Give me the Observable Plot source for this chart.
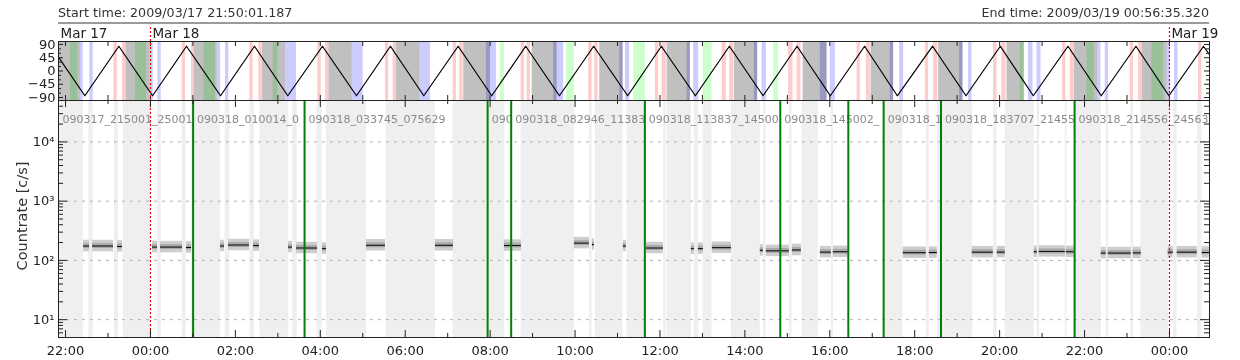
<!DOCTYPE html>
<html><head><meta charset="utf-8">
<script src="https://cdn.jsdelivr.net/npm/d3@7"></script>
<script src="https://cdn.jsdelivr.net/npm/@observablehq/plot@0.6"></script>
<style>
body{margin:0;background:#fff;font-family:"DejaVu Sans",sans-serif;}
#wrap{position:relative;width:1240px;height:360px;overflow:hidden;background:#fff;}
#wrap svg{position:absolute;left:0;}
.hdr{position:absolute;font-size:12.7px;line-height:18px;color:#333;white-space:nowrap;}
#ytitle{position:absolute;left:22px;top:216px;transform:translate(-50%,-50%) rotate(-90deg);font-size:14.5px;color:#333;white-space:nowrap;}
</style></head><body><div id="wrap"></div>
<script>
// ---------- data (times in hours since 2009-03-17 00:00 UT) ----------
const START = "2009-03-17T21:50:01.187Z";
const END = "2009-03-19T00:56:35.320Z";
const startLabel = "Start time: 2009/03/17 21:50:01.187";
const endLabel = "End time: 2009/03/19 00:56:35.320";

// orbit angle (top panel)
const orbitHours = [21.834, 22.454, 23.255, 24.049, 24.849, 25.650, 26.450, 27.234, 28.051, 28.852, 29.652, 30.437, 31.247, 32.038, 32.838, 33.632, 34.439, 35.240, 36.033, 36.834, 37.635, 38.428, 39.229, 40.013, 40.820, 41.590, 42.422, 43.208, 44.016, 44.793, 45.610, 46.394, 47.211, 47.988, 48.803, 48.943];
const orbitAngle = [47, -84, 84, -84, 84, -84, 84, -84, 84, -84, 84, -84, 84, -84, 84, -84, 84, -84, 84, -84, 84, -84, 84, -84, 84, -84, 84, -84, 84, -84, 84, -84, 84, -84, 84, 55];

// top panel interval bands
const grayBands = [[21.834,22.353],[23.420,23.985],[25.021,25.572],[26.632,27.180],[28.200,28.751],[29.794,30.342],[31.378,32.007],[32.989,33.578],[34.581,35.132],[36.168,36.716],[37.752,38.301],[39.370,39.935],[40.971,41.503],[42.563,43.137],[44.173,44.581],[45.758,46.307],[47.352,47.941]];
const pinkBands = [[23.137,23.217],[23.342,23.420],[24.748,24.826],[24.967,25.021],[26.340,26.420],[26.551,26.632],[27.941,28.021],[28.122,28.200],[29.535,29.612],[29.716,29.794],[31.129,31.206],[31.284,31.364],[32.730,32.808],[32.871,32.949],[34.322,34.402],[34.463,34.543],[35.892,35.970],[36.050,36.151],[37.463,37.564],[37.642,37.736],[39.031,39.135],[39.229,39.323],[40.641,40.719],[40.861,40.955],[42.250,42.328],[42.445,42.539],[43.858,43.938],[44.055,44.150],[45.482,45.562],[45.664,45.758],[47.076,47.154],[47.272,47.352],[48.685,48.765]];
const greenBands = [[22.118,22.290],[23.648,23.907],[25.256,25.532],[26.891,26.999],[32.243,32.337],[33.797,33.985],[35.381,35.657],[37.015,37.227],[38.678,38.795],[44.486,44.581],[46.057,46.229],[47.588,47.861]];
const blueBands = [[22.353,22.417],[22.572,22.652],[23.985,24.065],[24.173,24.253],[25.572,25.650],[25.767,25.845],[27.180,27.439],[28.751,29.010],[30.342,30.594],[31.913,32.148],[33.498,33.733],[35.052,35.132],[35.186,35.287],[36.639,36.716],[36.794,36.912],[38.223,38.301],[38.405,38.506],[39.777,39.935],[40.013,40.130],[41.425,41.503],[41.645,41.739],[43.057,43.137],[43.269,43.349],[44.682,44.786],[44.880,44.974],[46.307,46.387],[46.488,46.566],[47.941,48.019],[48.120,48.200]];

// main panel excluded intervals (light gray)
const excludedBands = [[21.834,22.417],[22.549,22.652],[23.154,23.248],[23.359,24.025],[24.166,24.253],[24.748,24.842],[24.960,25.650],[25.760,25.869],[26.340,26.450],[26.575,27.258],[27.352,27.456],[27.927,28.044],[28.146,29.087],[29.551,30.712],[31.129,32.344],[32.730,33.985],[34.345,34.402],[34.479,35.132],[35.226,35.657],[36.088,36.144],[36.168,36.740],[36.810,36.912],[37.015,37.227],[37.682,38.364],[38.442,38.499],[39.055,39.111],[39.346,39.730],[40.036,40.091],[41.261,41.724],[42.273,42.344],[42.539,43.364],[43.858,43.938],[44.133,44.816],[44.887,44.941],[45.546,45.586],[45.758,46.394],[46.511,46.566],[47.093,47.154],[47.329,47.978],[48.096,48.176],[48.662,48.765]];

// count-rate segments: start, end (hours), rate (c/s)
const segStart = [22.424,22.636,23.224,24.049,24.237,24.849,25.650,25.838,26.427,27.251,27.439,28.051,29.087,30.712,32.337,33.985,34.409,35.138,35.680,36.740,36.905,37.234,38.364,38.505,39.118,39.777,40.083,41.731,42.344,43.356,43.945,44.816,44.933,45.570,46.394,46.558,47.147,47.971,48.183,48.771];
const segEnd   = [22.565,23.130,23.342,24.166,24.755,24.967,25.744,26.332,26.568,27.345,27.933,28.146,29.535,31.136,32.737,34.338,34.456,35.209,36.080,36.810,37.023,37.682,38.435,39.048,39.330,40.036,40.436,42.273,42.532,43.851,44.133,44.887,45.546,45.758,46.511,47.100,47.335,48.089,48.654,48.940];
const segRate  = [175,175,172,168,168,165,175,182,178,168,162,158,180,180,178,196,185,175,162,158,158,164,148,145,150,138,140,135,136,138,138,140,142,140,133,133,134,138,138,136];

// file boundaries (green) and their labels
const fileHours = [25.004,27.629,31.941,32.496,35.644,38.834,40.436,41.268,42.619,45.766];
const labelHours = [21.834,25.004,27.629,31.941,32.496,35.644,38.834,41.268,42.619,45.766];
const labelTexts = ["090317_215001_25001","090318_010014_0","090318_033745_075629","090","090318_082946_11383","090318_113837_14500","090318_145002_","090318_1","090318_183707_21455","090318_214556_24563"];

const midnightHours = [24, 48];
const dayLabelHours = [21.834, 24, 48];
const dayLabels = ["Mar 17", "Mar 18", "Mar 19"];

const xTickHours = [22,24,26,28,30,32,34,36,38,40,42,44,46,48];
const xMinorHours = [23,25,27,29,31,33,35,37,39,41,43,45,47];
const yTopTicks = [-90,-45,0,45,90];
const yTopMinor = [-75,-60,-30,-15,15,30,60,75];
const yMainTicks = [10,100,1000,10000];
const yMainTickLabels = ["10¹","10²","10³","10⁴"];
const logMultipliers = [2,3,4,5,6,7,8,9];
const decades = [1,10,100,1000,10000];

// ---------- drawing ----------
const T0 = Date.UTC(2009, 2, 17);
const toDate = h => new Date(T0 + h * 3600e3);
const band = arr => arr.map(([a, b]) => ({x1: toDate(a), x2: toDate(b)}));

const WIDTH = 1240, ML = 58, MR = 31, FW = WIDTH - ML - MR;
const xOpt = {type: "utc", domain: [new Date(START), new Date(END)], axis: null};
const AX = "#222";
const RED = "#ff0000";
const baseStyle = {fontFamily: "DejaVu Sans, sans-serif", fontSize: "13px", color: "#222", background: "transparent", overflow: "visible"};

function xTicks(hours, len, H) {
  const d = hours.map(toDate);
  return [
    Plot.tickX(d, {x: v => v, insetTop: H - len, stroke: AX}),
    Plot.tickX(d, {x: v => v, insetBottom: H - len, stroke: AX})
  ];
}
function yTicks(vals, len) {
  return [
    Plot.tickY(vals, {y: v => v, insetRight: FW - len, stroke: AX}),
    Plot.tickY(vals, {y: v => v, insetLeft: FW - len, stroke: AX})
  ];
}

const orbit = orbitHours.map((h, i) => ({t: toDate(h), a: orbitAngle[i]}));
const TOPH = 59;
const topPlot = Plot.plot({
  width: WIDTH, height: 101, marginTop: 41, marginBottom: 1, marginLeft: ML, marginRight: MR,
  x: xOpt, y: {domain: [-100, 100], axis: null},
  style: baseStyle,
  marks: [
    Plot.rect(band(grayBands), {x1: "x1", x2: "x2", fill: "#c0c0c0"}),
    Plot.rect(band(pinkBands), {x1: "x1", x2: "x2", fill: "#ffcccc"}),
    Plot.rect(band(greenBands), {x1: "x1", x2: "x2", fill: "#ccffcc", mixBlendMode: "multiply"}),
    Plot.rect(band(blueBands), {x1: "x1", x2: "x2", fill: "#ccccff", mixBlendMode: "multiply"}),
    Plot.line(orbit, {x: "t", y: "a", stroke: "#000", strokeWidth: 1.2}),
    Plot.frame({stroke: AX}),
    ...xTicks([...xTickHours, ...xMinorHours], 5, TOPH),
    ...yTicks(yTopTicks, 5),
    ...yTicks(yTopMinor, 3),
    Plot.ruleX(midnightHours.map(toDate), {x: v => v, stroke: RED, strokeWidth: 1.2, strokeDasharray: "2,2", insetTop: -14}),
    Plot.axisY(yTopTicks, {anchor: "left", tickSize: 0, tickPadding: 3, fontSize: 13, label: null,
      tickFormat: v => v < 0 ? "\u2212" + Math.abs(v) : String(v)}),
    Plot.text(dayLabelHours.map((h, i) => ({t: toDate(h), s: dayLabels[i]})),
      {x: "t", text: "s", frameAnchor: "top", dy: -13, dx: 2, textAnchor: "start", fontSize: 13.5, fill: "#222"})
  ]
});

const MAINH = 237;
const segs = segStart.map((s, i) => ({x1: toDate(s), x2: toDate(segEnd[i]), r: segRate[i]}));
const minorLog = decades.flatMap(d => logMultipliers.map(m => d * m)).filter(v => v >= 5 && v <= 5e4);
const mainPlot = Plot.plot({
  width: WIDTH, height: 265, marginTop: 5, marginBottom: 23, marginLeft: ML, marginRight: MR,
  x: xOpt, y: {type: "log", domain: [5, 5e4], axis: null},
  style: baseStyle,
  marks: [
    Plot.rect(band(excludedBands), {x1: "x1", x2: "x2", fill: "#efefef"}),
    Plot.ruleY(yMainTicks, {y: v => v, stroke: "#b0b0b0", strokeDasharray: "3,5"}),
    Plot.rect(segs, {x1: "x1", x2: "x2", y1: d => d.r / 1.25, y2: d => d.r * 1.25, fill: "#cdcdcd"}),
    Plot.rect(segs, {x1: "x1", x2: "x2", y1: d => d.r / 1.1, y2: d => d.r * 1.1, fill: "#a9a9a9"}),
    Plot.ruleY(segs, {x1: "x1", x2: "x2", y: "r", stroke: "#000", strokeWidth: 1}),
    Plot.text(labelHours.map((h, i) => ({t: toDate(h), s: labelTexts[i]})),
      {x: "t", text: "s", frameAnchor: "top", dy: 15, dx: 4, textAnchor: "start", fontSize: 11, fill: "#8a8a8a"}),
    Plot.ruleX(midnightHours.map(toDate), {x: v => v, stroke: RED, strokeWidth: 1.2, strokeDasharray: "2,2"}),
    Plot.ruleX(fileHours.map(toDate), {x: v => v, stroke: "#008000", strokeWidth: 2}),
    Plot.frame({stroke: AX}),
    ...xTicks(xTickHours, 7, MAINH),
    ...xTicks(xMinorHours, 4, MAINH),
    ...yTicks(yMainTicks, 9),
    ...yTicks(minorLog, 5),
    Plot.axisX(xTickHours.map(toDate), {anchor: "bottom", tickSize: 0, tickPadding: 8, fontSize: 13, label: null,
      tickFormat: d3.utcFormat("%H:%M")}),
    Plot.axisY(yMainTicks, {anchor: "left", tickSize: 0, tickPadding: 4, fontSize: 13, label: null,
      tickFormat: v => yMainTickLabels[yMainTicks.indexOf(v)]})
  ]
});

const wrap = document.getElementById("wrap");
topPlot.style.top = "0px";
mainPlot.style.top = "95px";
wrap.appendChild(mainPlot);
wrap.appendChild(topPlot);

const mk = (cls, txt, css) => { const d = document.createElement("div"); if (cls) d.className = cls; if (txt) d.textContent = txt; Object.assign(d.style, css); wrap.appendChild(d); return d; };
mk("hdr", startLabel, {left: ML + "px", top: "4px"});
mk("hdr", endLabel, {right: MR + "px", top: "4px"});
mk(null, null, {position: "absolute", left: ML + "px", top: "22px", width: FW + "px", height: "2px", background: "#9a9a9a"});
const yt = mk(null, "Countrate [c/s]", {}); yt.id = "ytitle";
</script></body></html>
